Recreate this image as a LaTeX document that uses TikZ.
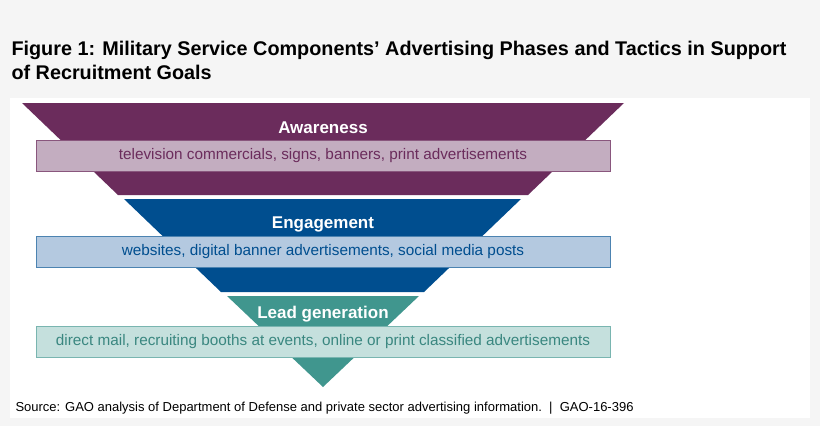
\documentclass[tikz,border=0pt]{standalone}
\usepackage{fontspec}
\setmainfont{Liberation Sans}
\definecolor{pur}{HTML}{6B2C5C}
\definecolor{purl}{HTML}{C3ADC0}
\definecolor{blu}{HTML}{004E8F}
\definecolor{blul}{HTML}{B4C9E0}
\definecolor{tea}{HTML}{40968E}
\definecolor{teal2}{HTML}{C5E0DD}
\begin{document}
\begin{tikzpicture}[x=1pt,y=-1pt,
  band/.style={draw=#1,line width=1pt},
  phase/.style={text=white,font=\fontsize{17}{20}\selectfont\bfseries},
  bandtext/.style={font=\fontsize{15.3}{18}\selectfont}]
\fill[gray!8] (0,0) rectangle (820,426);
\useasboundingbox (0,0) rectangle (820,426);
\fill[white] (10,98) rectangle (810,418);
\node[anchor=west,font=\fontsize{19.8}{24}\selectfont\bfseries,align=left] (title) at (8,60) {Figure 1: Military Service Components’ Advertising Phases and Tactics in Support\\of Recruitment Goals};
\fill[pur] (22,103) -- (624,103) -- (528,195) -- (118,195) -- cycle;
\fill[blu] (124,199) -- (521,199) -- (424,292) -- (221,292) -- cycle;
\fill[tea] (227,296) -- (419,296) -- (323,387) -- cycle;
\node[phase] (aw) at (323,128) {Awareness};
\node[phase] (en) at (323,224) {Engagement};
\node[phase] (lg) at (323,314) {Lead generation};
\filldraw[band=pur!80,fill=purl] (36,140) rectangle (610,171);
\filldraw[band=blu!70,fill=blul] (36,236) rectangle (610,267);
\filldraw[band=tea!70,fill=teal2] (36,326) rectangle (610,357);
\node[bandtext,text=pur] (t1) at (323,155.5) {television commercials, signs, banners, print advertisements};
\node[bandtext,text=blu] (t2) at (323,251.5) {websites, digital banner advertisements, social media posts};
\node[bandtext,text=tea!90!black] (t3) at (323,341.5) {direct mail, recruiting booths at events, online or print classified advertisements};
\node[anchor=west,font=\fontsize{13}{15}\selectfont] (src) at (12,408) {Source: GAO analysis of Department of Defense and private sector advertising information.\ \ |\ \ GAO-16-396};
\end{tikzpicture}
\end{document}
